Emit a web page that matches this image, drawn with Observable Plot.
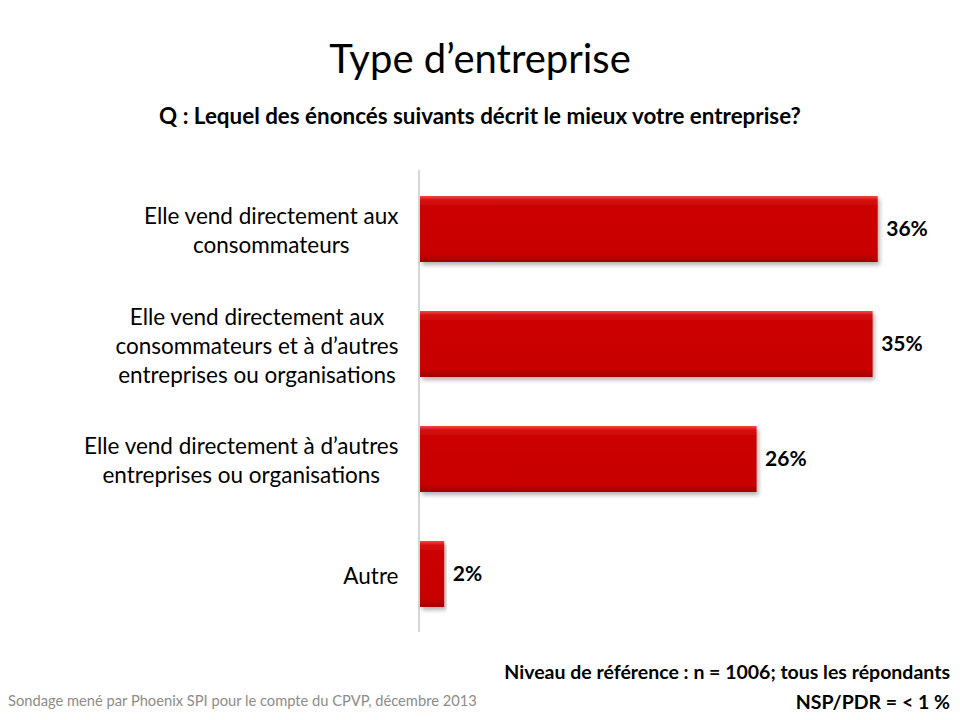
<!DOCTYPE html>
<html><head><meta charset="utf-8">
<script src="https://cdn.jsdelivr.net/npm/d3@7"></script>
<script src="https://cdn.jsdelivr.net/npm/@observablehq/plot@0.6"></script>
<style>
html,body{margin:0;padding:0;background:#fff;}
#wrap{position:relative;width:960px;height:720px;font-family:Lato,"Open Sans",sans-serif;color:#000;overflow:hidden;}
.abs{position:absolute;white-space:nowrap;line-height:1;}
#title{left:0;width:960px;top:38px;text-align:center;font-size:40px;}
#sub{left:0;width:960px;top:105px;text-align:center;font-size:22.4px;font-weight:bold;}
#chart{position:absolute;left:0;top:160px;}
#base{right:10px;top:662px;font-size:19.5px;font-weight:bold;}
#nsp{right:10px;top:692px;font-size:19.5px;font-weight:bold;}
#src{left:8px;top:693px;font-size:14.7px;color:#8c8c8c;}
</style></head>
<body><div id="wrap">
<div id="title" class="abs">Type d’entreprise</div>
<div id="sub" class="abs">Q : Lequel des énoncés suivants décrit le mieux votre entreprise?</div>
<div id="chart"></div>
<div id="base" class="abs">Niveau de référence : n = 1006; tous les répondants</div>
<div id="nsp" class="abs">NSP/PDR = &lt; 1 %</div>
<div id="src" class="abs">Sondage mené par Phoenix SPI pour le compte du CPVP, décembre 2013</div>
</div>
<script>
const categories = [
  "Elle vend directement aux\nconsommateurs",
  "Elle vend directement aux\nconsommateurs et à d’autres\nentreprises ou organisations",
  "Elle vend directement à d’autres\nentreprises ou organisations",
  "Autre"
];
const values = [35.9, 35.5, 26.4, 1.9];
const valueLabels = ["36%", "35%", "26%", "2%"];

const data = categories.map((c, i) => ({category: c, value: values[i], label: valueLabels[i]}));

const plot = Plot.plot({
  width: 960,
  height: 480,
  marginLeft: 420,
  marginRight: 30,
  marginTop: 10,
  marginBottom: 8,
  style: {fontFamily: "Lato, 'Open Sans', sans-serif", background: "transparent"},
  x: {domain: [0, 40], axis: null},
  y: {domain: categories, paddingInner: 0.43, paddingOuter: 0.215, axis: null},
  marks: [
    Plot.ruleX([0], {stroke: "#c8c8c8", strokeWidth: 1.5, dx: -1.5}),
    Plot.barX(data, {x: "value", y: "category", fill: "url(#barGrad)"}),
    Plot.text(data, {x: 0, y: "category", text: "category", textAnchor: "end", dx: -22,
      fontSize: 22.5, lineHeight: 1.3, fill: "#000", className: "cat-label"}),
    Plot.text(data, {x: "value", y: "category", text: "label", textAnchor: "start", dx: 8,
      fontSize: 21, fontWeight: "bold", fill: "#000"})
  ]
});

document.getElementById("chart").appendChild(plot);

// defs: gradient + shadow
const svg = d3.select(plot);
const defs = svg.insert("defs", ":first-child");
const grad = defs.append("linearGradient").attr("id", "barGrad")
  .attr("x1", 0).attr("y1", 0).attr("x2", 0).attr("y2", 1);
[[0, "#f04a4a"], [0.06, "#d81010"], [0.14, "#cc0606"], [0.88, "#c80505"], [1, "#a00000"]]
  .forEach(([o, c]) => grad.append("stop").attr("offset", o).attr("stop-color", c));
const filt = defs.append("filter").attr("id", "shadow")
  .attr("x", "-5%").attr("y", "-10%").attr("width", "115%").attr("height", "140%");
filt.append("feDropShadow").attr("dx", 2).attr("dy", 3).attr("stdDeviation", 2)
  .attr("flood-color", "#000").attr("flood-opacity", 0.3);
svg.selectAll("rect").attr("filter", "url(#shadow)");

// center lines within each label block, block right-aligned
svg.selectAll(".cat-label text").each(function () {
  const tspans = this.querySelectorAll("tspan");
  if (!tspans.length) return;
  let w = 0;
  tspans.forEach(t => { w = Math.max(w, t.getComputedTextLength()); });
  const tx = +(this.getAttribute("x") || 0);
  this.setAttribute("text-anchor", "middle");
  tspans.forEach(t => t.setAttribute("x", tx - w / 2));
});
</script>
</body></html>
